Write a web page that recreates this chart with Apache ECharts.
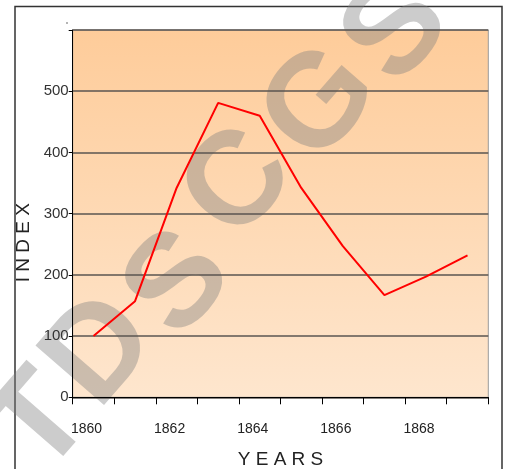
<!DOCTYPE html>
<html>
<head>
<meta charset="utf-8">
<script src="https://cdn.jsdelivr.net/npm/echarts@6/dist/echarts.min.js"></script>
<style>
html,body{margin:0;padding:0;background:#fff;}
#c{width:506px;height:469px;}
</style>
</head>
<body>
<div id="c"></div>
<script>
var years = ['1860','1861','1862','1863','1864','1865','1866','1867','1868','1869'];
var indexValues = [100, 157, 342, 481, 460, 342, 247, 167, 197, 232];
var yTicks = [0, 100, 200, 300, 400, 500, 600];
var watermarkLetters = ['T','D','S','C','G','S'];

var wmPos = [[42,425],[102,352],[180,285],[240,185],[322,105],[398,32]];
var rot = 49 * Math.PI / 180;
var wmEls = watermarkLetters.map(function (ch, i) {
  return {
    type: 'text', x: wmPos[i][0], y: wmPos[i][1], rotation: rot, z: 1, silent: true,
    style: { text: ch, fill: 'rgba(128,128,128,0.4)', font: 'bold 132px "Liberation Sans", Arial, sans-serif', align: 'center', verticalAlign: 'middle' }
  };
});

var chart = echarts.init(document.getElementById('c'), null, {renderer: 'canvas'});
chart.setOption({
  animation: false,
  backgroundColor: '#fff',
  textStyle: { fontFamily: '"Liberation Sans", Arial, sans-serif' },
  grid: {
    left: 72.7, right: 17.7, top: 30, bottom: 71.7,
    outerBoundsMode: 'none', containLabel: false,
    show: true, borderWidth: 1, borderColor: '#9a9a9a',
    backgroundColor: {
      type: 'linear', x: 0, y: 0, x2: 0, y2: 1,
      colorStops: [{offset: 0, color: '#fecc9a'}, {offset: 1, color: '#fee6ce'}]
    }
  },
  graphic: [{
    type: 'rect', z: 0, silent: true,
    shape: { x: 15, y: 6.5, width: 487, height: 490 },
    style: { fill: 'none', stroke: '#333', lineWidth: 1.5 }
  }, {
    type: 'circle', z: 0, silent: true,
    shape: { cx: 67, cy: 23, r: 0.8 }, style: { fill: '#555' }
  }].concat(wmEls),
  xAxis: {
    type: 'category', data: years, boundaryGap: true, z: 5,
    name: 'Y E A R S', nameLocation: 'middle', nameGap: 53,
    nameTextStyle: { fontSize: 19, color: '#222' },
    axisLine: { lineStyle: { color: '#000', width: 1 } },
    axisTick: { show: true, interval: 0, length: 7, lineStyle: { color: '#000' } },
    axisLabel: { interval: 1, fontSize: 14, color: '#222', margin: 25, padding: [0, 14, 0, 0] },
    splitLine: { show: false }
  },
  yAxis: {
    type: 'value', min: yTicks[0], max: yTicks[yTicks.length - 1], interval: 100, z: 5,
    name: 'I N D E X', nameLocation: 'middle', nameGap: 36,
    nameTextStyle: { fontSize: 19, color: '#222', padding: [0, 58, 0, 0] },
    axisLine: { show: true, lineStyle: { color: '#000', width: 1 } },
    axisTick: { show: true, length: 4, lineStyle: { color: '#000' } },
    axisLabel: { fontSize: 15, color: '#333', margin: 4,
      formatter: function (v) { return v === 600 ? '' : String(v); } },
    splitLine: { show: true, lineStyle: { color: '#5a5550', width: 1.5 } }
  },
  series: [{
    type: 'line', data: indexValues, z: 6,
    symbol: 'none', lineStyle: { color: '#ff0000', width: 2 }
  }]
});
</script>
</body>
</html>
